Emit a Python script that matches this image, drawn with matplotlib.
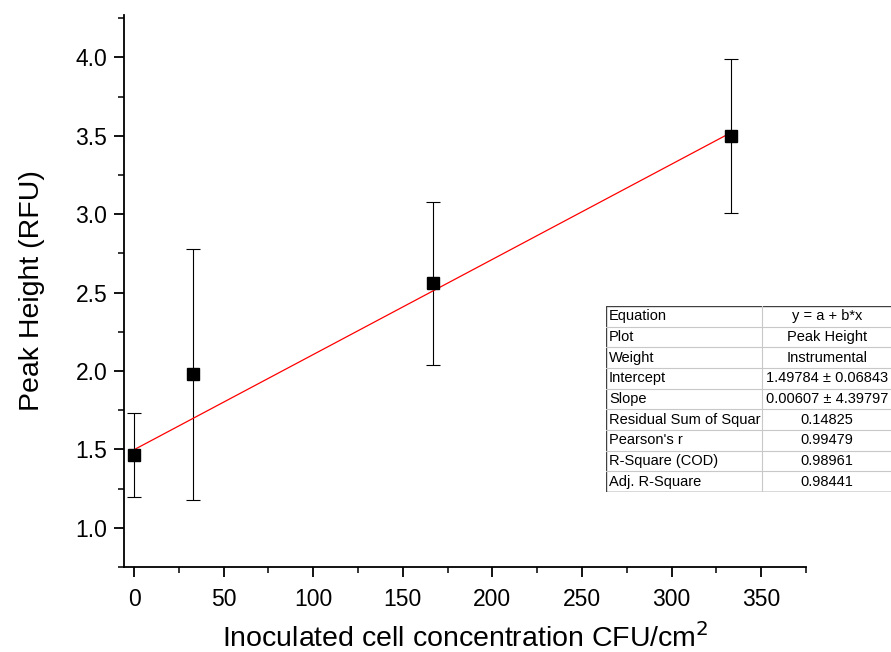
import matplotlib.pyplot as plt
from matplotlib.ticker import MultipleLocator
from matplotlib.patches import Rectangle

plt.rcParams['font.family'] = ['Liberation Sans', 'DejaVu Sans']

# --- data ---
conc = [0, 33, 167, 333]
peak = [1.465, 1.98, 2.56, 3.50]
err_low = [1.197, 1.175, 2.04, 3.006]
err_high = [1.733, 2.78, 3.077, 3.99]

intercept = 1.49784
slope = 0.00607

table_keys = ['Equation', 'Plot', 'Weight', 'Intercept', 'Slope',
              'Residual Sum of Squar', "Pearson's r", 'R-Square (COD)',
              'Adj. R-Square']
table_vals = ['y = a + b*x', 'Peak Height', 'Instrumental',
              '1.49784 \u00b1 0.06843', '0.00607 \u00b1 4.39797',
              '0.14825', '0.99479', '0.98961', '0.98441']

fig = plt.figure(figsize=(8.91, 6.52), dpi=100)
ax = fig.add_axes([124 / 891, 85 / 652, 682 / 891, 552 / 652])

yerr = [[p - lo for p, lo in zip(peak, err_low)],
        [hi - p for p, hi in zip(peak, err_high)]]
ax.errorbar(conc, peak, yerr=yerr, fmt='none', ecolor='black',
            elinewidth=0.8, capsize=5, capthick=0.8, zorder=2)

fit_x = [min(conc), max(conc)]
fit_y = [intercept + slope * v for v in fit_x]
ax.plot(fit_x, fit_y, color='red', lw=0.9, zorder=3)
ax.plot(conc, peak, 's', color='black', ms=9, zorder=4)

ax.set_xlim(-5.6, 375)
ax.set_ylim(0.75, 4.27)
ax.xaxis.set_major_locator(MultipleLocator(50))
ax.xaxis.set_minor_locator(MultipleLocator(25))
ax.yaxis.set_major_locator(MultipleLocator(0.5))
ax.yaxis.set_minor_locator(MultipleLocator(0.25))
ax.yaxis.set_major_formatter(plt.FuncFormatter(lambda v, p: f'{v:.1f}'))

for side in ['top', 'right']:
    ax.spines[side].set_visible(False)
for side in ['left', 'bottom']:
    ax.spines[side].set_linewidth(1.3)
ax.tick_params(which='major', direction='out', length=7, width=1.3,
               labelsize=16.5)
ax.tick_params(axis='x', which='major', pad=8)
ax.tick_params(axis='y', which='major', pad=5)
ax.tick_params(which='minor', direction='out', length=4, width=1.1)

ax.set_xlabel('Inoculated cell concentration CFU/cm$^2$', fontsize=20.5,
              labelpad=9)
ax.set_ylabel('Peak Height (RFU)', fontsize=20.5, labelpad=22)

# --- fit results table ---
tax = fig.add_axes([606 / 891, 160 / 652, 300 / 891, 186 / 652])
tax.set_xlim(0, 300)
tax.set_ylim(0, 186)
tax.axis('off')
n = len(table_keys)
row_h = 186 / n
for i, (k, v) in enumerate(zip(table_keys, table_vals)):
    yc = 186 - (i + 0.5) * row_h
    tax.text(3, yc, k, fontsize=10.5, va='center', ha='left')
    tax.text(221, yc, v, fontsize=10.5, va='center', ha='center')
    if i > 0:
        tax.plot([0, 300], [186 - i * row_h] * 2, color='#c8c8c8', lw=0.8)
tax.plot([156, 156], [0, 186], color='#c8c8c8', lw=0.8)
tax.add_patch(Rectangle((0, 0), 300, 186, fill=False, edgecolor='#404040',
                        lw=1.0))

fig.savefig('out.png', dpi=100)
